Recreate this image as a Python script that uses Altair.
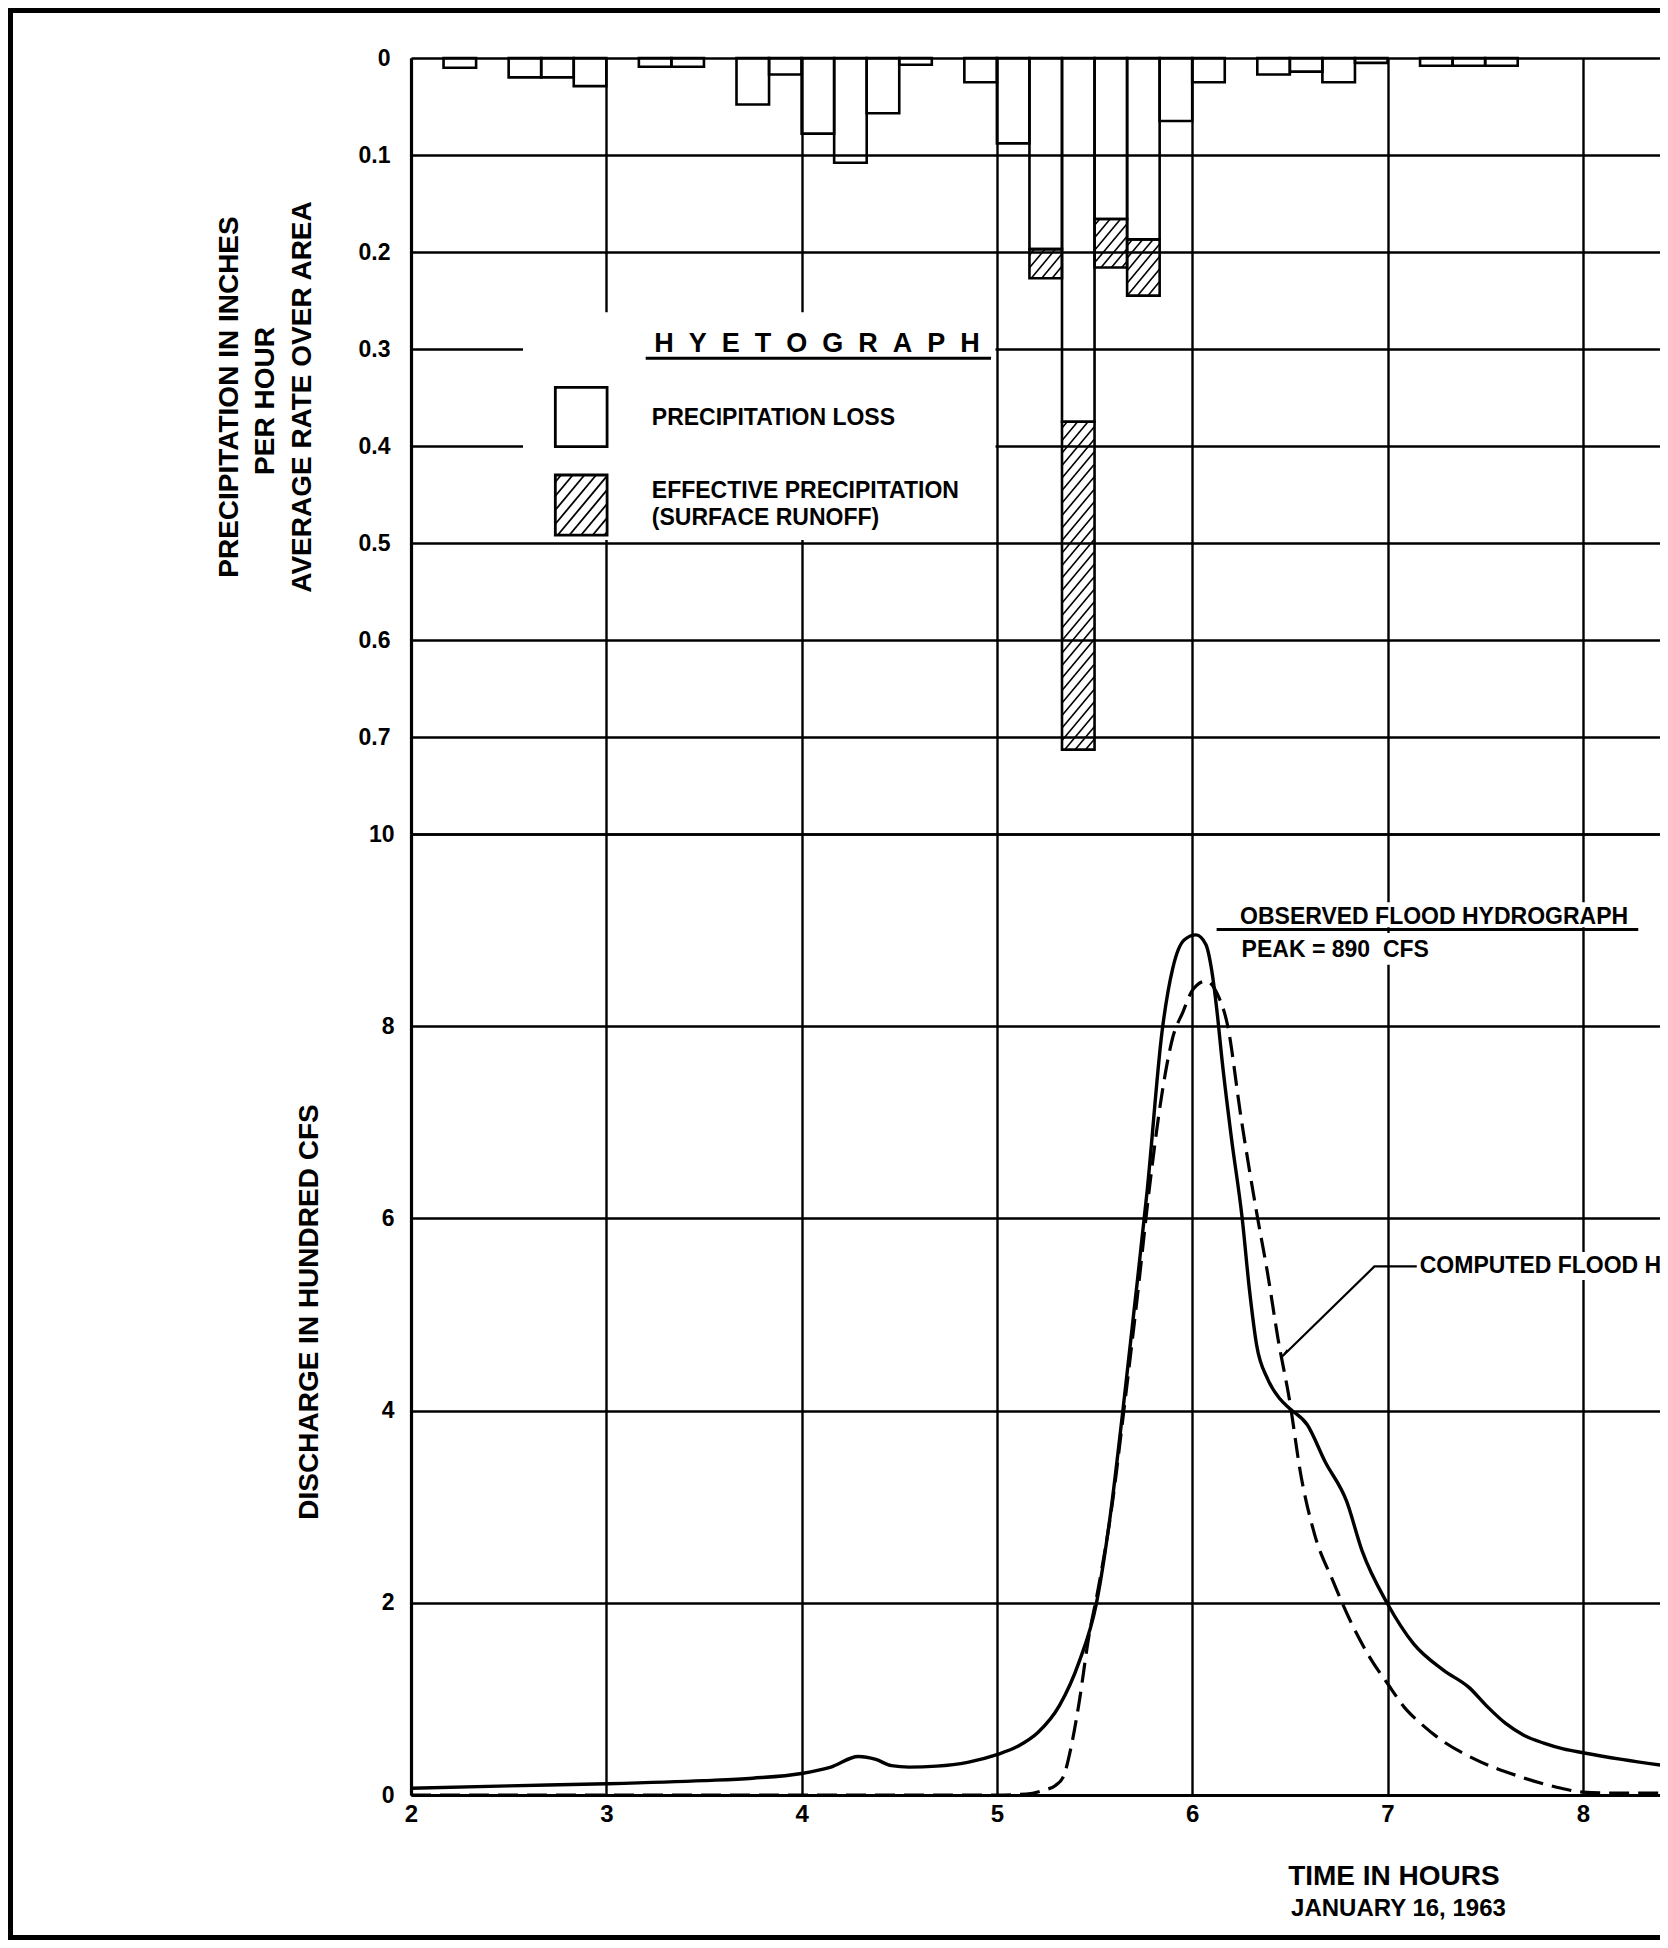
import altair as alt
import pandas as pd

# ------------------------------------------------------------------ data
# Hyetograph: 10-minute intervals; start of each interval in minutes after 02:00
bar_start_min = [10, 30, 40, 50, 70, 80, 100, 110, 120, 130, 140, 150, 170, 180,
                 190, 200, 210, 220, 230, 240, 260, 270, 280, 290, 310, 320, 330]
precip_loss = [0.010, 0.020, 0.020, 0.029, 0.009, 0.009, 0.048, 0.017, 0.078, 0.108,
               0.057, 0.007, 0.025, 0.088, 0.197, 0.375, 0.166, 0.187, 0.065, 0.025,
               0.017, 0.014, 0.025, 0.005, 0.008, 0.008, 0.008]
precip_effective = [0, 0, 0, 0, 0, 0, 0, 0, 0, 0,
                    0, 0, 0, 0, 0.030, 0.338, 0.050, 0.058, 0, 0,
                    0, 0, 0, 0, 0, 0, 0]

# Observed flood hydrograph (hours, hundred cfs)
obs_hours = [2.0, 2.5, 3.0, 3.5, 3.75, 4.0, 4.15, 4.29, 4.38, 4.46, 4.55, 4.69, 4.85,
             5.0, 5.11, 5.21, 5.32, 5.42, 5.51, 5.58, 5.645, 5.70, 5.77, 5.846, 5.90,
             5.96, 6.02, 6.07, 6.10, 6.13, 6.15, 6.20, 6.256, 6.293, 6.33, 6.386, 6.45,
             6.50, 6.59, 6.68, 6.79, 6.87, 7.0, 7.135, 7.286, 7.417, 7.511, 7.605, 7.70,
             7.80, 7.90, 8.0, 8.2, 8.4]
obs_discharge = [0.07, 0.095, 0.117, 0.15, 0.175, 0.224, 0.29, 0.40, 0.37, 0.305, 0.29,
                 0.30, 0.34, 0.42, 0.51, 0.65, 0.93, 1.38, 2.0, 2.9, 4.0, 5.0, 6.3, 7.95,
                 8.6, 8.9, 8.95, 8.85, 8.58, 8.1, 7.7, 6.85, 6.0, 5.26, 4.68, 4.33, 4.12,
                 4.02, 3.85, 3.47, 3.06, 2.54, 1.99, 1.57, 1.30, 1.12, 0.92, 0.745, 0.62,
                 0.54, 0.48, 0.44, 0.37, 0.31]

# Computed flood hydrograph
comp_hours = [2.0, 3.0, 4.0, 5.0, 5.15, 5.24, 5.30, 5.34, 5.38, 5.42, 5.47, 5.52, 5.59,
              5.65, 5.72, 5.78, 5.85, 5.90, 5.953, 6.0, 6.07, 6.13, 6.18, 6.25, 6.33,
              6.386, 6.44, 6.50, 6.553, 6.627, 6.72, 6.81, 6.91, 7.0, 7.10, 7.17, 7.25,
              7.46, 7.68, 7.89, 8.0, 8.2, 8.4]
comp_discharge = [0.0, 0.0, 0.0, 0.0, 0.01, 0.05, 0.10, 0.19, 0.5, 0.95, 1.64, 2.16, 3.02,
                  4.0, 5.2, 6.3, 7.36, 7.88, 8.15, 8.37, 8.47, 8.33, 8.02, 7.05, 6.06,
                  5.43, 4.74, 4.09, 3.37, 2.71, 2.23, 1.81, 1.43, 1.16, 0.88, 0.745, 0.61,
                  0.36, 0.19, 0.07, 0.03, 0.02, 0.02]

x_tick_hours = [2, 3, 4, 5, 6, 7, 8]
precip_ticks = [0, 0.1, 0.2, 0.3, 0.4, 0.5, 0.6, 0.7, 0.8]
discharge_ticks = [0, 2, 4, 6, 8, 10]

precip_title_lines = ["PRECIPITATION IN INCHES", "PER HOUR", "AVERAGE RATE OVER AREA"]
discharge_title = "DISCHARGE IN HUNDRED CFS"
time_title = ["TIME IN HOURS", "JANUARY 16, 1963"]
legend_title = "HYETOGRAPH"
legend_items = ["PRECIPITATION LOSS", "EFFECTIVE PRECIPITATION", "(SURFACE RUNOFF)"]
observed_label = ["OBSERVED FLOOD HYDROGRAPH", "PEAK = 890\u00a0\u00a0CFS"]
computed_label = "COMPUTED FLOOD HYDROGRAPH"

# ------------------------------------------------------------------ layout
W, H_TOP, H_BOT = 1249, 776, 961
X_MIN = 2.0
X_MAX = 2.0 + W / 195.3
PX_HR = W / (X_MAX - X_MIN)
PX_IN = H_TOP / 0.8
FONT = "Liberation Sans"
INK = "black"
GRID_W = 2.4

xscale = alt.Scale(domain=[X_MIN, X_MAX], nice=False, zero=False)
ytop_scale = alt.Scale(domain=[0, 0.8], reverse=True, nice=False, zero=False)
ybot_scale = alt.Scale(domain=[0, 10], nice=False, zero=False)

lab = dict(labelFont=FONT, labelFontWeight="bold", labelColor=INK, labelFlush=False)

x_top_axis = alt.Axis(values=x_tick_hours, grid=True, gridColor=INK, gridWidth=GRID_W,
                      labels=False, ticks=False, domain=False, title=None)
y_top_axis = alt.Axis(values=precip_ticks, grid=True, gridColor=INK, gridWidth=GRID_W,
                      ticks=False, tickSize=0, domain=True, domainColor=INK, domainWidth=3.2,
                      title=None, format=".1~f",
                      labelExpr="datum.value > 0.75 ? '' : datum.label",
                      labelFontSize=23, labelPadding=21, **lab)
x_bot_axis = alt.Axis(values=x_tick_hours, grid=True, gridColor=INK, gridWidth=GRID_W,
                      ticks=False, tickSize=0, domain=True, domainColor=INK, domainWidth=3.2,
                      title=None, format="d", labelFontSize=24, labelPadding=7, **lab)
y_bot_axis = alt.Axis(values=discharge_ticks, grid=True, gridColor=INK, gridWidth=GRID_W,
                      ticks=False, tickSize=0, domain=True, domainColor=INK, domainWidth=3.2,
                      title=None, format="d", labelFontSize=23, labelPadding=17, **lab)


def XT(f):
    return alt.X(f, type="quantitative", scale=xscale, axis=x_top_axis)


def YT(f):
    return alt.Y(f, type="quantitative", scale=ytop_scale, axis=y_top_axis)


def XB(f):
    return alt.X(f, type="quantitative", scale=xscale, axis=x_bot_axis)


def YB(f):
    return alt.Y(f, type="quantitative", scale=ybot_scale, axis=y_bot_axis)


def hatch_segments(x0, x1, y0, y1, spacing=12.5, slope=1.2):
    px0, px1 = (x0 - X_MIN) * PX_HR, (x1 - X_MIN) * PX_HR
    py0, py1 = y0 * PX_IN, y1 * PX_IN
    out = []
    c = py0 + slope * px0 + spacing * 0.5
    while c < py1 + slope * px1:
        xs = max(px0, (c - py1) / slope)
        xe = min(px1, (c - py0) / slope)
        if xe - xs > 0.6:
            out.append({"hx": X_MIN + xs / PX_HR, "hy": (c - slope * xs) / PX_IN,
                        "hx2": X_MIN + xe / PX_HR, "hy2": (c - slope * xe) / PX_IN})
        c += spacing
    return out


def px_text(text, x, y, size, angle=0, align="center", baseline="middle"):
    return alt.Chart(pd.DataFrame({"t": [text]})).mark_text(
        font=FONT, fontWeight="bold", fontSize=size, color=INK, angle=angle,
        align=align, baseline=baseline
    ).encode(text="t:N", x=alt.value(x), y=alt.value(y))


# ------------------------------------------------------------------ hyetograph panel
bars = pd.DataFrame({"start": [X_MIN + m / 60 for m in bar_start_min],
                     "loss": precip_loss, "eff": precip_effective})
bars["end"] = bars["start"] + 10 / 60
bars["zero"] = 0.0
bars["total"] = bars["loss"] + bars["eff"]
eff_bars = bars[bars["eff"] > 0].copy()

# legend geometry (data units of the hyetograph panel)
leg = pd.DataFrame({"x": [2.5735], "x2": [4.993], "y": [0.262], "y2": [0.497]})
SW_X0, SW_X1 = 2.739, 3.004
sw = pd.DataFrame({"x": [SW_X0, SW_X0], "x2": [SW_X1, SW_X1],
                   "y": [0.3395, 0.4299], "y2": [0.4007, 0.4918]})

bar_hatch_rows = []
for _, r in eff_bars.iterrows():
    bar_hatch_rows += hatch_segments(r["start"], r["end"], r["loss"], r["total"])
bar_hatch = pd.DataFrame(bar_hatch_rows)
leg_hatch = pd.DataFrame(hatch_segments(SW_X0, SW_X1, 0.4299, 0.4918, spacing=14.0))

loss_rects = alt.Chart(bars).mark_rect(fill="white", fillOpacity=0, stroke=INK,
                                       strokeWidth=2.6).encode(
    x=XT("start"), x2="end", y=YT("zero"), y2="loss")
eff_rects = alt.Chart(eff_bars).mark_rect(fill="white", fillOpacity=0, stroke=INK,
                                          strokeWidth=2.6).encode(
    x=XT("start"), x2="end", y=YT("loss"), y2="total")
bar_hatch_lines = alt.Chart(bar_hatch).mark_rule(color=INK, strokeWidth=1.6).encode(
    x=XT("hx"), x2="hx2", y=YT("hy"), y2="hy2")

legend_box = alt.Chart(leg).mark_rect(fill="white").encode(
    x=XT("x"), x2="x2", y=YT("y"), y2="y2")
legend_swatches = alt.Chart(sw).mark_rect(fill="white", stroke=INK, strokeWidth=2.8).encode(
    x=XT("x"), x2="x2", y=YT("y"), y2="y2")
legend_hatch_lines = alt.Chart(leg_hatch).mark_rule(color=INK, strokeWidth=1.8).encode(
    x=XT("hx"), x2="hx2", y=YT("hy"), y2="hy2")

leg_text = pd.DataFrame({
    "t": ["\u00a0\u00a0".join(legend_title)] + legend_items,
    "x": [4.079, 3.233, 3.233, 3.233],
    "y": [0.3028, 0.3784, 0.4539, 0.4812],
})
legend_title_mark = alt.Chart(leg_text.iloc[[0]]).mark_text(
    font=FONT, fontWeight="bold", fontSize=27, color=INK, align="center",
    baseline="alphabetic").encode(x=XT("x"), y=YT("y"), text="t:N")
legend_item_marks = alt.Chart(leg_text.iloc[1:]).mark_text(
    font=FONT, fontWeight="bold", fontSize=23, color=INK, align="left",
    baseline="alphabetic").encode(x=XT("x"), y=YT("y"), text="t:N")
legend_underline = alt.Chart(pd.DataFrame({"x": [3.2017], "x2": [4.97], "y": [0.3096]})
                             ).mark_rule(color=INK, strokeWidth=3).encode(
    x=XT("x"), x2="x2", y=YT("y"))

# frame around the sheet: filled bars, pixel positions relative to the top plot area
one = pd.DataFrame({"k": [0]})
FR_L0, FR_L1 = -403, -398      # left bar
FR_T0, FR_T1 = -50, -45        # top bar
FR_B0, FR_B1 = 1877, 1882      # bottom bar


def frame_bar(x0, x1, y0, y1):
    return alt.Chart(one).mark_rect(color=INK).encode(
        x=alt.value(x0), x2=alt.value(x1), y=alt.value(y0), y2=alt.value(y1))


frame = [frame_bar(FR_L0, W, FR_T0, FR_T1),
         frame_bar(FR_L0, FR_L1, FR_T0, FR_B1),
         frame_bar(FR_L0, W, FR_B0, FR_B1)]

ptitle = [px_text(precip_title_lines[0], -181, 339, 28, angle=270),
          px_text(precip_title_lines[1], -145, 343, 28, angle=270),
          px_text(precip_title_lines[2], -108.5, 339, 28, angle=270)]

top = alt.layer(
    loss_rects, eff_rects, bar_hatch_lines,
    legend_box, legend_swatches, legend_hatch_lines,
    legend_title_mark, legend_item_marks, legend_underline,
    *ptitle, *frame,
).properties(width=W, height=H_TOP)

# ------------------------------------------------------------------ hydrograph panel
obs = pd.DataFrame({"t": obs_hours, "q": obs_discharge})
comp = pd.DataFrame({"t": comp_hours, "q": comp_discharge})

obs_line = alt.Chart(obs).mark_line(color=INK, strokeWidth=3.4, interpolate="monotone",
                                    clip=True).encode(x=XB("t"), y=YB("q"))
comp_line = alt.Chart(comp).mark_line(color=INK, strokeWidth=3.2, interpolate="monotone",
                                      strokeDash=[20, 9], clip=True).encode(
    x=XB("t"), y=YB("q"))

# white knock-outs behind the annotation texts (gridlines are interrupted there)
knock = pd.DataFrame({"x": [6.235, 6.24, 7.16], "x2": [8.25, 7.30, X_MAX],
                      "y": [9.03, 8.64, 5.36], "y2": [9.29, 8.97, 5.65]})
knockouts = alt.Chart(knock).mark_rect(fill="white", clip=True).encode(
    x=XB("x"), x2="x2", y=YB("y"), y2="y2")

obs_text = alt.Chart(pd.DataFrame({"t": observed_label, "x": [6.245, 6.253],
                                   "y": [9.068, 8.719]})).mark_text(
    font=FONT, fontWeight="bold", fontSize=23, color=INK, align="left",
    baseline="alphabetic", clip=True).encode(x=XB("x"), y=YB("y"), text="t:N")
obs_underline = alt.Chart(pd.DataFrame({"x": [6.125], "x2": [8.284], "y": [9.005]})
                          ).mark_rule(color=INK, strokeWidth=3).encode(
    x=XB("x"), x2="x2", y=YB("y"))

comp_text = alt.Chart(pd.DataFrame({"t": [computed_label], "x": [7.165], "y": [5.50]})
                      ).mark_text(font=FONT, fontWeight="bold", fontSize=23, color=INK,
                                  align="left", baseline="middle", clip=True).encode(
    x=XB("x"), y=YB("y"), text="t:N")
leader = alt.Chart(pd.DataFrame({"x": [7.15, 6.933, 6.462], "y": [5.50, 5.50, 4.565],
                                 "o": [0, 1, 2]})).mark_line(
    color=INK, strokeWidth=2.2).encode(x=XB("x"), y=YB("y"), order="o:Q")
arrow = alt.Chart(pd.DataFrame({"x": [6.478], "y": [4.605]})).mark_point(
    shape="wedge", filled=True, size=110, angle=224, color=INK, opacity=1).encode(
    x=XB("x"), y=YB("y"))

time_t1 = alt.Chart(pd.DataFrame({"t": [time_title[0]], "x": [7.033]})).mark_text(
    font=FONT, fontWeight="bold", fontSize=28, color=INK, align="center",
    baseline="middle").encode(x=XB("x"), y=alt.value(1043), text="t:N")
time_t2 = alt.Chart(pd.DataFrame({"t": [time_title[1]], "x": [7.056]})).mark_text(
    font=FONT, fontWeight="bold", fontSize=24, color=INK, align="center",
    baseline="middle").encode(x=XB("x"), y=alt.value(1075), text="t:N")

dtitle = px_text(discharge_title, -101.5, 478, 28, angle=270)

bottom = alt.layer(
    knockouts, obs_line, comp_line, obs_text, obs_underline, comp_text, leader, arrow,
    time_t1, time_t2, dtitle,
).properties(width=W, height=H_BOT)

chart = alt.VConcatChart(
    vconcat=[top, bottom], spacing=0, bounds="flush", padding=0,
).resolve_scale(y="independent").configure_view(stroke=None).properties(
    background="white")

chart.save("out.html", embed_options={"renderer": "svg", "actions": False})
